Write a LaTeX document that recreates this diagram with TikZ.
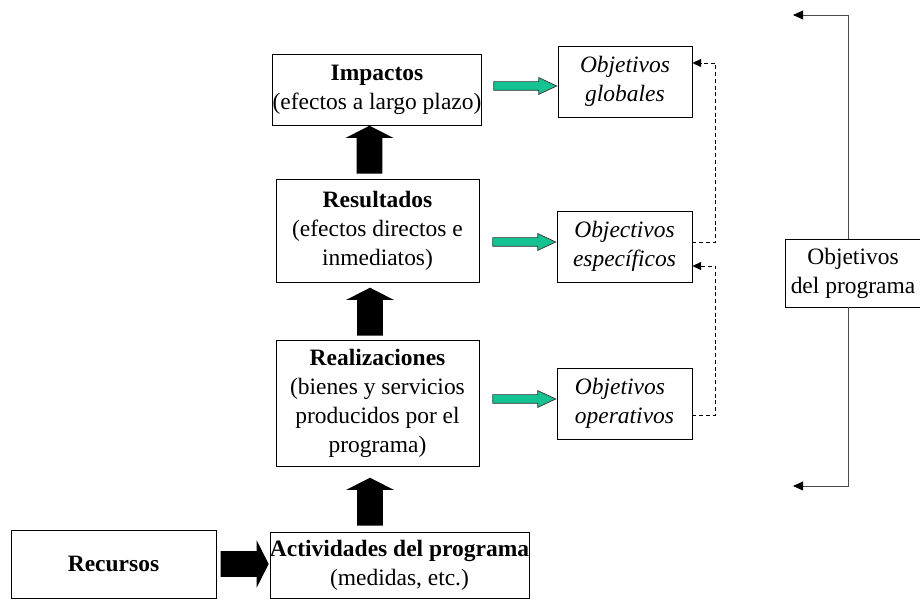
\documentclass[tikz,border=0pt]{standalone}
\usepackage{fontspec}
\setmainfont{Liberation Serif}
\usetikzlibrary{shapes,shapes.arrows,arrows.meta}
\definecolor{turq}{RGB}{20,195,145}

\begin{document}
\begin{tikzpicture}[font=\fontsize{16.7}{20.6}\selectfont,
box/.style={shape=rectangle,draw=black,align=center,line width=0.6pt,inner sep=0pt},
bigarrow/.style={shape=single arrow,fill=black,inner sep=0.3125cm,minimum height=1.2cm,single arrow head extend=0.275cm,single arrow tip angle=126},
greenarrow/.style={shape=single arrow,draw=black!80,fill=turq,line width=0.5pt,inner sep=0.1cm,minimum height=1.575cm,single arrow head extend=0.1cm,single arrow tip angle=50,anchor=tip},
dline/.style={dash pattern=on 2.8pt off 2pt,line width=0.5pt,-{Triangle[length=0.22cm,width=0.2cm]}},
bline/.style={draw=black!70,line width=0.6pt,-{Triangle[length=0.25cm,width=0.22cm,color=black]}}]
\useasboundingbox (0,0) rectangle (23,14.975);
\node[box,minimum width=5.1cm,minimum height=1.775cm] (0) at (9.425,12.7375) {\textbf{Impactos}\\(efectos a largo plazo)};
\node[box,minimum width=5.075cm,minimum height=2.575cm] (1) at (9.4375,9.2125) {\textbf{Resultados}\\(efectos directos e\\inmediatos)};
\node[box,minimum width=5.075cm,minimum height=3.15cm] (2) at (9.4375,4.9) {\textbf{Realizaciones}\\(bienes y servicios\\producidos por el\\programa)};
\node[box,minimum width=6.125cm,minimum height=1.65cm] (3) at (9.9875,0.85) {\textbf{Actividades del programa}\\(medidas, etc.)};
\node[box,minimum width=5.125cm,minimum height=1.7cm] (4) at (2.8375,0.875) {\textbf{Recursos}};
\node[box,minimum width=3.35cm,minimum height=1.775cm] (5) at (15.625,12.9375) {\textit{Objetivos}\\\textit{globales}};
\node[box,minimum width=3.375cm,minimum height=1.775cm] (6) at (15.6125,8.8125) {\textit{Objectivos}\\\textit{específicos}};
\node[box,minimum width=3.375cm,minimum height=1.775cm,align=left] (7) at (15.6125,4.8875) {\textit{Objetivos}\\\textit{operativos}};
\node[box,minimum width=3.4cm,minimum height=1.7cm] (8) at (21.325,8.15) {Objetivos\\del programa};

\node[greenarrow] (11) at ([yshift=-0.1125cm]5.west) {};
\node[greenarrow] (12) at ([yshift=0.1125cm]6.west) {};
\node[greenarrow] (13) at ([yshift=0.1125cm]7.west) {};

\node[bigarrow,shape border rotate=90,anchor=tip] (14) at ([xshift=-0.1875cm]0.south) {};
\node[bigarrow,shape border rotate=90,anchor=tip] (15) at ([shift={(-0.1875,-0.125)}]1.south) {};
\node[bigarrow,shape border rotate=90,anchor=tip] (16) at ([shift={(-0.1875,-0.275)}]2.south) {};
\node[bigarrow,anchor=tail] (17) at ([xshift=0.1cm]4.east) {};

\draw[dline] ([yshift=0.1125cm]6.east) -- ++(0.575,0) |- ([yshift=0.4625cm]5.east);
\draw[dline] ([yshift=-0.2875cm]7.east) -- ++(0.575,0) |- ([yshift=-0.4875cm]6.east);

\coordinate (9) at (19.825,14.6);
\coordinate (10) at (19.825,2.825);
\draw[bline] ([xshift=-0.125cm]8.north) |- (9);
\draw[bline] ([xshift=-0.125cm]8.south) |- (10);
\end{tikzpicture}
\end{document}
